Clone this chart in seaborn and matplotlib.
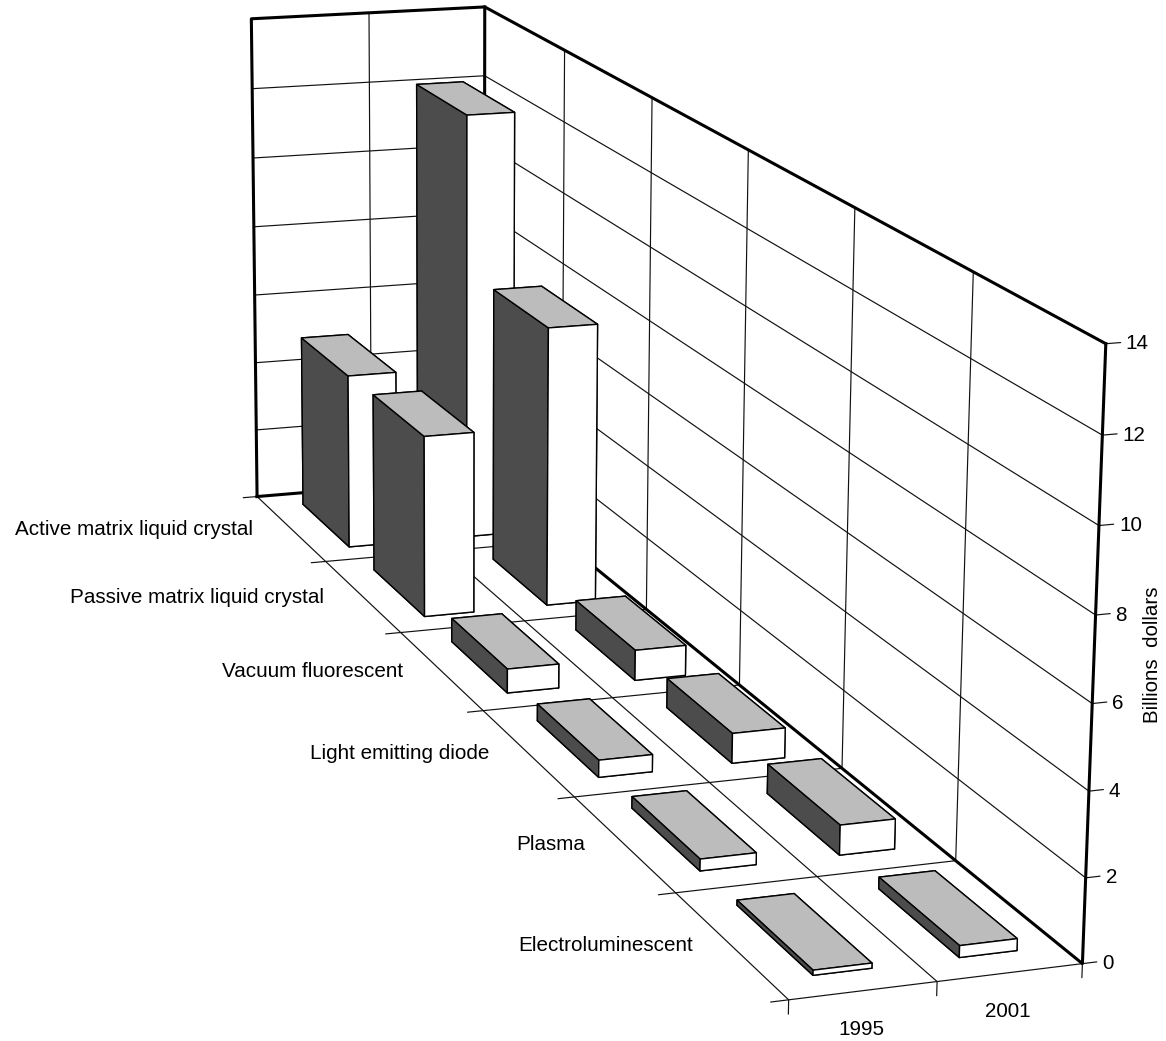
import numpy as np
import matplotlib
matplotlib.use('Agg')
import matplotlib.pyplot as plt
import seaborn as sns
from mpl_toolkits.mplot3d import proj3d

# Display sales, billions of dollars
displays = ['Active matrix liquid crystal', 'Passive matrix liquid crystal', 'Vacuum fluorescent',
            'Light emitting diode', 'Plasma', 'Electroluminescent']
years = ['1995', '2001']
sales_1995 = [4.94, 4.99, 0.64, 0.44, 0.29, 0.12]
sales_2001 = [12.1, 7.70, 0.81, 0.77, 0.74, 0.28]
z_ticks = [0, 2, 4, 6, 8, 10, 12, 14]

sns.set_theme(style='white')
plt.rcParams['font.family'] = ['Liberation Sans', 'DejaVu Sans']
plt.rcParams['text.color'] = 'black'

fig = plt.figure(figsize=(11.66, 10.41), dpi=100)
ax = fig.add_subplot(projection='3d', computed_zorder=False)
ax.set_axis_off()

# Camera found by fitting the box corners of the original chart
ax.view_init(elev=16.6458, azim=-110.5894, roll=-0.8007)
ax.set_proj_type('persp', focal_length=0.3884)
ax.set_xlim(1.0008 - 10.787 / 2, 1.0008 + 10.787 / 2)
ax.set_ylim(2.1606 - 5.293 / 2, 2.1606 + 5.293 / 2)
ax.set_zlim(4.4088 - 28.02 / 2, 4.4088 + 28.02 / 2)

# The axes box is bigger than the figure so the box centre lands where it should
scale = 2400 / 0.185
ax.set_position([(695.74 - 0.095 * scale) / 1166, (1041 - 595.47 - 0.095 * scale) / 1041,
                 0.185 * scale / 1166, 0.185 * scale / 1041])

n_rows = len(displays)
n_years = len(years)
thin = dict(color='#111111', lw=0.85, zorder=1)
thick = dict(color='black', lw=2.2, zorder=1.5, solid_capstyle='projecting')

# Walls
for z in z_ticks[1:-1]:
    ax.plot([0, n_years], [n_rows, n_rows], [z, z], **thin)
    ax.plot([n_years, n_years], [n_rows, 0], [z, z], **thin)
for r in range(1, n_rows):
    ax.plot([n_years, n_years], [r, r], [0, 14], **thin)
ax.plot([1, 1], [n_rows, n_rows], [0, 14], **thin)

# Floor
for r in range(0, n_rows + 1):
    ax.plot([-0.12, n_years], [r, r], [0, 0], **thin)
for i in range(n_years):
    ax.plot([i, i], [0, n_rows], [0, 0], **thin)
for i in range(n_years + 1):
    ax.plot([i, i], [0, 0], [0, -0.33], **thin)

# Heavy frame
ax.plot([0, 0, n_years, n_years], [n_rows, n_rows, n_rows, 0], [0, 14, 14, 14], **thick)
ax.plot([n_years, n_years], [n_rows, n_rows], [0, 14], **thick)
ax.plot([0, n_years, n_years, n_years], [n_rows, n_rows, 0, 0], [0, 0, 0, 14], **thick)

# Right hand value ticks
for z in z_ticks:
    ax.plot([n_years, n_years + 0.1], [0, 0], [z, z], **thin)

# Bars, back row first so nearer ones paint over
bar_colors = ['white', '#bcbcbc', 'white', 'white', '#4c4c4c', 'white']
for row in range(n_rows):
    y = n_rows - 1 - row
    for i, vals in enumerate([sales_1995, sales_2001]):
        ax.bar3d(i + 0.3, y + 0.17, 0, 0.4, 0.66, vals[row], color=bar_colors,
                 edgecolor='black', linewidth=1.0, shade=False, zorder=2 + row - i * 0.1)

M = ax.get_proj()


def to_2d(x, y, z):
    px, py, _ = proj3d.proj_transform(x, y, z, M)
    return px, py


for row, name in enumerate(displays):
    ax.annotate(name, to_2d(0, n_rows - 0.5 - row, 0), xytext=(-38, -1), textcoords='offset pixels',
                ha='right', va='center', fontsize=14.9, annotation_clip=False)
for i, yr in enumerate(years):
    ax.annotate(yr, to_2d(i + 0.5, 0, 0), xytext=(-2, -39), textcoords='offset pixels',
                ha='center', va='center', fontsize=14.9, annotation_clip=False)
for z in z_ticks:
    ax.annotate(str(z), to_2d(n_years, 0, z), xytext=(20, 0), textcoords='offset pixels',
                ha='left', va='center', fontsize=14.9, annotation_clip=False)
fig.text(1153 / 1166, 1 - 655 / 1041, 'Billions  dollars', rotation=90, ha='center', va='center', fontsize=14.8)

fig.savefig('out.png', dpi=100)
